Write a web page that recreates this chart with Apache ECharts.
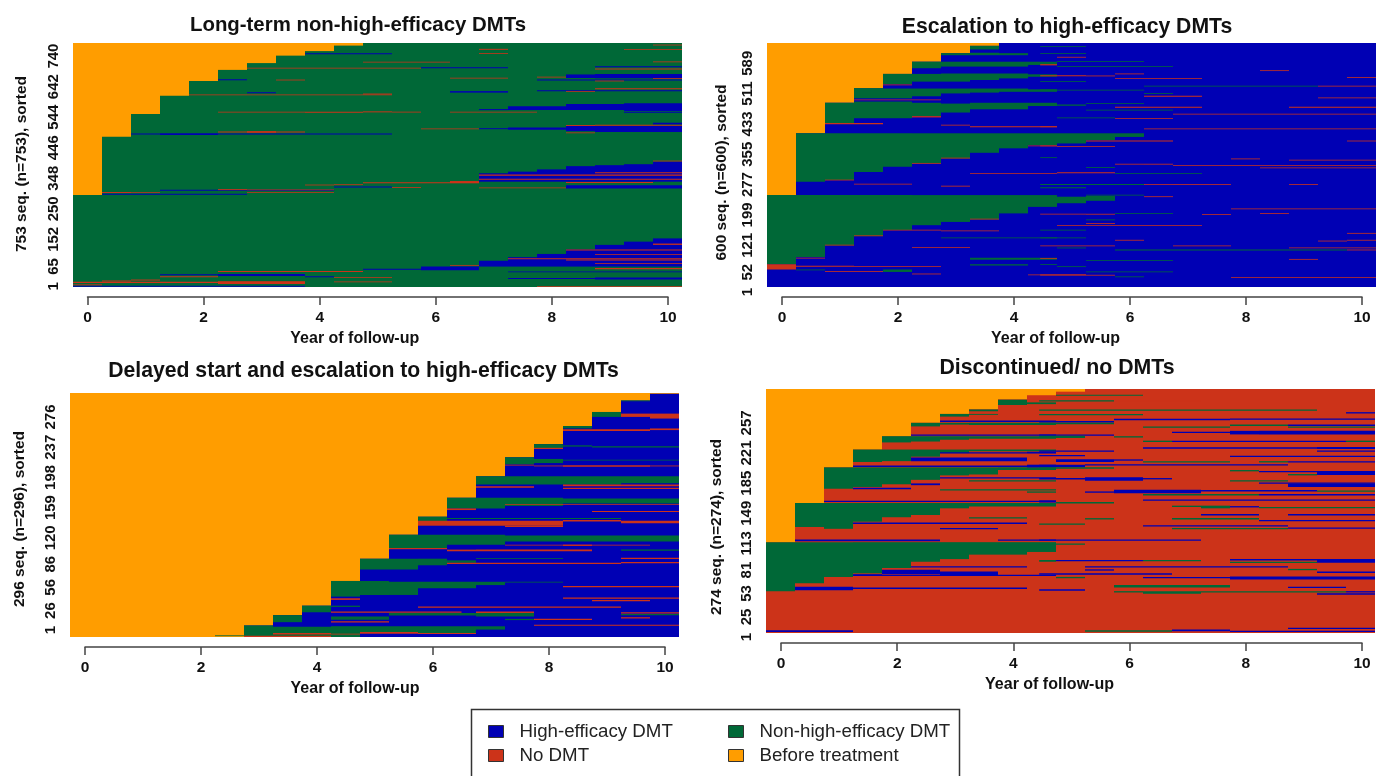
<!DOCTYPE html>
<html>
<head>
<meta charset="utf-8">
<style>html,body{margin:0;padding:0;background:#fff}#chart{width:1387px;height:776px;filter:blur(0.5px)}</style>
<script src="https://cdn.jsdelivr.net/npm/echarts@6/dist/echarts.min.js"></script>
</head>
<body>
<div id="chart"></div>
<script>
// States
const H = 0, N = 1, X = 2, B = 3;
const stateNames = ['High-efficacy DMT', 'Non-high-efficacy DMT', 'No DMT', 'Before treatment'];
const stateColors = ['#0000b4', '#006837', '#cc3319', '#ff9d00'];
const panelTitles = ['Long-term non-high-efficacy DMTs', 'Escalation to high-efficacy DMTs',
  'Delayed start and escalation to high-efficacy DMTs', 'Discontinued/ no DMTs'];
const yNames = ['753 seq. (n=753), sorted', '600 seq. (n=600), sorted', '296 seq. (n=296), sorted', '274 seq. (n=274), sorted'];
const seqCounts = [753, 600, 296, 274];
const yTicks1 = [1, 65, 152, 250, 348, 446, 544, 642, 740];
const yTicks2 = [1, 52, 121, 199, 277, 355, 433, 511, 589];
const yTicks3 = [1, 26, 56, 86, 120, 159, 198, 237, 276];
const yTicks4 = [1, 25, 53, 81, 113, 149, 185, 221, 257];
const xAxisName = 'Year of follow-up';

// Each segment: [first row, last row, start year, end year, state]; painted in order
const panel1Segments = [
  [0,753,-.25,10.25,N],
  [284,753,-.25,.25,B],[464,753,.25,.75,B],[534,753,.75,1.25,B],[590,753,1.25,1.75,B],[636,753,1.75,2.25,B],
  [670,753,2.25,2.75,B],[691,753,2.75,3.25,B],[714,753,3.25,3.75,B],[728,753,3.75,4.25,B],[745,753,4.25,4.75,B],
  [718,721,3.75,5.25,H],[675,677,2.75,5.75,X],[675,678,5.75,7.25,H],[693,695,4.75,6.25,X],[644,646,6.25,7.25,X],
  [638,641,2.25,2.75,H],[638,640,3.25,3.75,X],[601,604,6.25,7.25,H],[598,601,2.75,3.25,H],[592,594,1.75,5.25,X],[594,597,4.75,5.25,X],
  [539,541,2.25,3.75,X],[538,541,3.75,4.75,X],[539,542,4.75,5.25,X],[540,541,5.25,5.75,X],[539,541,6.25,7.75,X],
  [477,480,2.25,3.75,X],[476,481,2.75,3.25,X],[471,474,.75,5.25,H],[469,474,1.25,2.25,H],[487,489,5.75,6.75,X],
  [487,490,6.75,7.25,H],[485,492,7.25,8.25,H],[481,497,8.25,8.75,H],[478,497,8.75,10.25,H],[498,501,8.75,10.25,X],[502,507,9.75,10.25,H],
  [497,500,8.25,8.75,X],[475,477,8.25,8.75,X],
  [546,549,6.75,7.25,H],[546,558,7.25,8.25,H],[546,565,8.25,9.25,H],[543,567,9.25,10.25,H],[538,541,9.25,10.25,H],
  [732,735,6.75,7.25,X],[720,722,6.75,7.25,X],[732,734,9.25,10.25,X],[746,748,9.75,10.25,X],[678,681,8.75,10.25,H],[672,674,8.75,10.25,X],[694,696,9.75,10.25,X],
  [645,656,8.25,8.75,H],[644,657,8.75,10.25,H],[637,640,7.75,10.25,H],[647,649,7.75,8.25,X],[635,637,8.75,9.25,X],[643,645,9.75,10.25,X],
  [604,607,7.75,10.25,H],[610,613,8.75,10.25,X],[603,605,8.25,8.75,X],[600,603,6.25,7.25,H],
  [325,351,6.75,7.25,H],[325,356,7.25,7.75,H],[325,363,7.75,8.25,H],[325,373,8.25,8.75,H],[325,376,8.75,9.25,H],[325,379,9.25,9.75,H],[325,387,9.75,10.25,H],
  [343,347,6.75,10.25,X],[331,334,6.75,10.25,X],[351,354,8.75,10.25,X],[388,390,9.75,10.25,X],
  [321,324,8.25,9.75,X],[321,323,4.75,6.25,X],[320,327,6.25,6.75,X],[315,317,4.25,4.75,X],
  [307,310,4.25,5.25,H],[306,308,5.25,5.75,X],[305,307,6.75,8.25,X],[304,314,8.25,10.25,H],
  [314,316,3.75,4.25,X],[297,300,1.25,4.25,H],[299,302,2.25,2.75,X],[299,301,2.75,4.25,X],[291,293,.25,1.25,X],[290,293,.25,.75,X],
  [291,293,2.75,4.25,X],[285,288,.25,2.75,H],
  [47,49,2.25,4.75,X],[36,39,1.25,2.25,H],[34,40,2.25,3.75,H],[30,33,1.25,2.25,X],[30,33,3.75,4.25,H],
  [20,23,.75,1.25,X],[17,20,.25,.75,X],[12,16,-.25,3.75,X],[9,18,2.25,3.75,X],[5,8,-.25,.25,X],[1,4,-.25,3.75,H],
  [53,56,4.75,5.75,H],[52,63,5.75,6.75,H],[66,68,6.25,6.75,X],
  [63,81,6.75,7.25,H],[63,92,7.25,7.75,H],[63,102,7.75,8.25,H],[63,116,8.25,8.75,H],[63,130,8.75,9.25,H],[63,140,9.25,9.75,H],[63,150,9.75,10.25,H],
  [55,59,8.75,10.25,X],[46,48,7.25,10.25,H],[25,28,7.25,8.75,H],[23,29,8.75,10.25,H],[1,3,7.75,10.25,X],[29,31,4.25,5.25,X],[15,17,4.25,5.25,X],
  [130,134,9.75,10.25,X],[113,116,8.25,10.25,X],[100,102,8.75,10.25,X],[86,89,7.25,10.25,X],[82,85,8.25,10.25,X],[72,74,8.75,10.25,X]
];

const panel2Segments = [
  [0,600,-.25,10.25,H],
  [226,600,-.25,.25,B],[378,600,.25,.75,B],[453,600,.75,1.25,B],[489,600,1.25,1.75,B],[524,600,1.75,2.25,B],[554,600,2.25,2.75,B],[575,600,2.75,3.25,B],[593,600,3.25,3.75,B],
  [56,226,-.25,.25,N],[74,226,.25,.75,N],[102,226,.75,1.25,N],[125,226,1.25,1.75,N],[140,226,1.75,2.25,N],[152,226,2.25,2.75,N],[160,226,2.75,3.25,N],[166,226,3.25,3.75,N],[181,226,3.75,4.25,N],[197,226,4.25,4.75,N],[206,222,4.75,5.25,N],[212,224,5.25,5.75,N],
  [43,56,-.25,.25,X],
  [259,378,.25,.75,N],[263,378,.75,1.25,N],[283,378,1.25,1.75,N],[296,378,1.75,2.25,N],[304,378,2.25,2.75,N],[316,378,2.75,3.25,N],[330,378,3.25,3.75,N],[341,378,3.75,4.25,N],[349,378,4.25,4.75,N],[353,378,4.75,5.25,N],[361,378,5.25,5.75,N],[369,378,5.75,6.25,N],
  [402,453,.75,1.25,N],[415,456,1.25,1.75,N],[464,489,1.25,1.75,N],
  [415,456,1.75,2.25,N],[464,488,1.75,2.25,N],[499,524,1.75,2.25,N],
  [420,453,2.25,2.75,N],[469,488,2.25,2.75,N],[505,524,2.25,2.75,N],[538,554,2.25,2.75,N],
  [429,451,2.75,3.25,N],[476,488,2.75,3.25,N],[505,525,2.75,3.25,N],[542,554,2.75,3.25,N],[570,575,2.75,3.25,N],
  [437,453,3.25,3.75,N],[478,488,3.25,3.75,N],[509,525,3.25,3.75,N],[542,554,3.25,3.75,N],[570,576,3.25,3.75,N],[584,593,3.25,3.75,N],
  [437,453,3.75,4.25,N],[480,488,3.75,4.25,N],[513,525,3.75,4.25,N],[542,554,3.75,4.25,N],[570,575,3.75,4.25,N],
  [445,453,4.25,4.75,N],[480,486,4.25,4.75,N],[517,523,4.25,4.75,N],[546,554,4.25,4.75,N],
  [459,461,1.25,2.75,X],[496,498,1.75,2.25,X],[400,402,.75,1.75,X],[417,419,2.25,2.75,X],
  [50,52,.25,1.25,X],[50,51,1.25,2.75,X],[41,43,.25,.75,N],[37,39,.75,1.25,X],[37,39,1.25,1.75,X],[37,43,1.75,2.25,N],[32,33,2.25,2.75,X],[29,31,4.25,5.25,X],
  [70,72,.25,.75,X],[102,104,.75,1.25,X],[125,127,1.25,1.75,X],[97,98,2.25,3.25,X],[138,139,2.75,3.75,X],[166,168,3.25,3.75,X],[140,141,1.75,2.75,X],[121,122,2.75,4.75,N],
  [67,72,3.25,4.75,N],[53,56,3.25,4.25,N],[279,280,3.25,4.75,X],[253,254,1.25,2.25,X],[247,249,2.75,3.25,X],[263,264,.75,1.25,X],[304,305,2.25,2.75,X],[316,318,2.75,3.25,X],[347,348,4.25,4.75,X],[394,395,3.25,4.75,X],[401,403,.75,1.75,X],[419,420,2.25,2.75,X],[398,399,2.75,3.25,X],
  [591,592,4.46,5.25,N],[574,575,4.46,5.25,N],[565,566,4.75,5.25,X],[554,555,4.75,6.25,N],[545,548,4.46,4.75,X],[542,543,4.75,6.75,N],[532,533,8.25,8.75,X],
  [518,521,4.46,5.25,X],[519,520,5.25,5.75,X],[524,525,5.75,6.25,X],[513,514,5.75,7.25,X],[515,516,9.75,10.25,X],[505,506,4.46,5.25,N],
  [494,495,6.25,9.25,N],[494,495,9.25,10.25,X],[483,486,4.46,4.75,N],[484,485,4.75,6.25,N],[476,477,6.25,6.75,N],[469,470,6.25,7.25,X],[465,466,9.25,10.25,X],
  [451,452,5.25,6.25,N],[446,449,4.46,5.25,N],[442,443,5.75,7.25,X],[442,443,8.75,10.25,X],[435,436,5.25,6.75,N],[425,426,6.75,10.25,X],[416,417,4.75,5.75,N],[414,415,5.75,6.75,X],
  [393,395,4.46,4.75,X],[389,390,6.25,10.25,X],[359,360,5.25,6.75,X],[359,360,9.75,10.25,X],[346,348,4.46,4.75,X],[345,346,4.75,5.75,X],
  [318,319,4.46,4.75,N],[315,316,7.75,8.25,X],[312,313,8.75,10.25,X],[302,303,5.75,6.25,X],[301,303,6.25,6.75,X],[299,300,6.75,10.25,X],[293,294,8.25,10.25,X],[294,295,5.25,5.75,N],
  [280,282,4.75,5.75,X],[279,280,5.75,7.25,N],[252,253,4.46,6.25,N],[252,253,6.25,6.75,X],[251,253,6.75,7.25,X],[252,253,7.25,7.75,X],[252,253,8.75,9.25,X],[244,245,4.46,5.25,N],
  [226,227,5.25,6.25,N],[222,223,6.25,6.75,X],[192,193,7.75,10.25,X],[178,180,4.46,5.25,X],[178,180,5.25,5.75,X],[181,182,5.75,6.75,N],[178,179,7.25,7.75,X],[181,182,8.25,8.75,X],
  [165,166,5.25,5.75,N],[156,157,5.25,5.75,X],[151,152,4.75,7.25,X],[140,141,4.46,5.25,N],[132,133,9.75,10.25,X],[120,122,4.46,5.25,N],[115,116,5.75,6.25,X],[113,114,9.25,9.75,X],[115,116,9.75,10.25,X],
  [101,102,4.46,5.75,X],[101,102,6.75,7.75,X],[96,97,4.75,5.25,N],[96,97,8.75,10.25,X],[91,92,5.75,9.75,N],[90,92,9.75,10.25,X],[70,71,4.46,4.75,X],[65,66,5.25,6.75,N],[68,69,8.75,9.25,X],
  [55,56,4.46,4.75,N],[50,51,4.75,5.25,N],[37,38,5.25,6.75,N],[28,31,4.46,5.25,X],[29,30,5.25,5.75,X],[25,26,5.75,6.25,N],[23,24,7.75,10.25,X]
];

const panel3Segments = [
  [0,296,-.25,10.25,B],
  [1,2,2.25,2.75,N],[0,14,2.75,3.25,H],[0,26.5,3.25,3.75,H],[0,38,3.75,4.25,H],[0,68,4.25,4.75,H],[0,95,4.75,5.25,H],[0,124,5.25,5.75,H],[0,146,5.75,6.25,H],
  [0,169,6.25,6.75,H],[0,195,6.75,7.25,H],[0,218,7.25,7.75,H],[0,234,7.75,8.25,H],[0,256,8.25,8.75,H],[0,273,8.75,9.25,H],[0,287,9.25,9.75,H],[0,295,9.75,10.25,H],
  [0,12.4,2.75,4.75,N],[6.3,14,2.75,3.25,N],[18,26.5,3.25,3.75,N],[30,38,3.75,4.25,N],[49,68,4.25,4.75,N],
  [37.5,45,4.25,4.75,H],[45,47,4.25,4.75,X],[14,16,3.25,4.75,H],[17,18,3.75,4.25,H],[3,5,3.25,4.75,X],[0,1.5,2.75,4.25,X],
  [286,287,9.25,9.75,N],[267,273,8.75,9.25,N],[267,271,9.25,9.75,X],[265,271,9.75,10.25,X],
  [253,256,8.25,8.75,N],[250,252,8.25,9.75,X],[251,253,9.75,10.25,X],
  [229,234,7.75,8.25,N],[231,232.5,8.25,8.75,N],[230,231.5,8.75,10.25,N],[228,229.5,7.75,8.25,X],
  [209.5,218,7.25,7.75,N],[211,216,7.75,8.25,N],[214,215,8.25,10.25,N],[207,208,7.75,8.25,X],[206.5,208.5,8.25,9.75,X],[207,208,9.75,10.25,X],[208,209,7.25,7.75,X],
  [185,195,6.75,9.25,N],[186.4,195,9.25,10.25,N],[181,183,6.75,7.75,X],[183,185,8.25,10.25,X],[179.5,181,8.25,10.25,X],
  [156,169,6.25,7.25,N],[159,169,7.25,8.25,N],[162,168,8.25,10.25,N],[154,156,6.25,6.75,X],[160,161,7.25,10.25,X],[151.5,153,8.75,10.25,X],
  [140,146,5.75,6.25,N],[143,144.5,6.25,9.25,N],[135,141,5.75,6.25,X],[135,141,6.25,8.25,X],[140,142,8.25,9.25,X],[138,141,9.25,10.25,X],[133.5,135,7.25,8.25,X],
  [108,124,5.25,6.25,N],[112,124,6.25,7.25,N],[116,123,7.25,10.25,N],[104,106,6.25,6.75,X],[104,106,6.75,8.75,X],[106.5,108,5.25,6.25,X],[110.5,112,8.25,8.75,X],[111,112,7.25,9.75,X],[104.5,106,9.25,10.25,N],
  [82,95,4.75,5.75,N],[87,95,5.75,6.25,N],[90,93,6.25,6.75,N],[94.5,95.5,6.75,8.25,N],[88.5,90,6.25,9.25,X],[94.5,96,9.25,10.25,X],[89.5,91,9.25,10.25,X],
  [51,68,4.25,5.25,N],[51,67,5.25,5.75,N],[59,67,5.75,6.75,N],[63,67,6.75,7.25,N],[66,67,7.25,8.25,N],[60.5,62,8.25,10.25,X],[46.5,48,8.25,10.25,X],[43.5,45,8.75,9.75,X],
  [36.5,38,4.25,4.75,N],[35.5,37,5.75,7.25,X],[35.5,37,7.25,9.25,X],[29.5,31,4.25,6.5,X],[26,29,5.25,7.75,N],[28,31,6.75,7.75,X],[25,29,6.75,7.75,N],
  [21,25,4.25,5.25,N],[17.5,19,4.25,5.25,X],[20.5,22,7.25,7.75,N],[20.5,22,7.75,8.75,X],[26.5,28,9.25,10.25,N],[28.5,30,9.25,10.25,X],[22.5,24,9.25,9.75,X],
  [5,13,4.25,6.75,N],[9,13,6.75,7.25,N],[4,6,4.75,5.75,X],[3.5,5,5.75,6.75,X],[13.5,15,7.75,10.25,X],[4,5.5,4.25,4.75,N]
];

const panel4Segments = [
  [0,274,-.25,10.25,X],
  [102,274,-.25,.25,B],[146,274,.25,.75,B],[186,274,.75,1.25,B],[206,274,1.25,1.75,B],[221,274,1.75,2.25,B],[236,274,2.25,2.75,B],[246,274,2.75,3.25,B],[251,274,3.25,3.75,B],[262.4,274,3.75,4.25,B],[267,274,4.25,4.75,B],[271,274,4.75,5.25,B],
  [47,102,-.25,.25,N],[56,102,.25,.75,N],[63,102,.75,1.25,N],[67,102,1.25,1.75,N],[73,102,1.75,2.25,N],[80,102,2.25,2.75,N],[83,102,2.75,3.25,N],[88,102,3.25,3.75,N],[88,102,3.75,4.25,N],[91,102,4.25,4.75,N],
  [48,52,.25,1.25,H],[49.5,51,1.25,4.25,H],[64,66,1.25,1.75,H],[66,71,1.75,2.75,H],[65,69,2.75,3.75,H],[64,65.5,1.25,4.75,H],[73.5,75,2.25,4.25,H],
  [119,146,.25,.75,N],[119.5,146,.75,1.25,N],[125,146,1.25,1.75,N],[130,146,1.75,2.25,N],[132.5,146,2.25,2.75,N],[140,146,2.75,3.25,N],[142,146,3.25,4.75,N],
  [117,121,.75,1.25,N],[117.5,120,1.25,3.25,X],[122.5,124,1.25,4.25,H],[116.5,118,2.75,3.75,H],[103,105,.25,2.75,H],[103.5,105,3.75,4.75,H],[128.5,130,3.25,4.25,N],
  [162,186,.75,1.25,N],[164,186,1.25,1.75,N],[167,186,1.75,2.25,N],[172,186,2.25,2.75,N],[177,186,2.75,3.25,N],[178,186,3.25,3.75,N],[183,186,3.75,4.75,N],
  [161.5,163,1.25,2.25,H],[166,168,2.25,2.75,H],[173.5,175,2.75,4.75,H],[147,148.5,.75,4.75,H],[170,171.5,3.25,4.75,N],[160,161.5,2.75,4.75,N],[157.5,159,4.25,4.75,N],
  [192,206,1.25,1.75,N],[193,206,1.75,2.25,N],[198,206,2.25,2.75,N],[202,206,2.75,3.25,N],[204,206,3.25,4.75,N],
  [193,197,2.25,4.25,H],[186.5,188,1.25,4.25,H],[186,189,4.25,4.75,H],[201.5,203,2.75,4.25,H],[201.5,203.5,4.25,4.75,H],
  [214,221,1.75,2.25,N],[215,221,2.25,2.75,N],[217,221,2.75,3.25,N],[218,221,3.25,4.75,N],[221.5,223,2.25,4.75,H],
  [232,236,2.25,2.75,N],[234,236,2.75,3.25,N],[233.5,236,3.25,4.75,N],[237,238.5,2.75,4.75,H],
  [243,246,2.75,3.25,N],[245,251,3.25,3.75,X],[245,251,3.25,3.75,N],[246,249,3.25,3.75,X],[256,262,3.75,4.25,N],
  [257,259,4.25,4.75,N],[260,262,4.25,4.75,X],
  [1,3,-.25,1.25,H],
  [260,261.5,4.46,5.75,N],[260,261,5.75,7.25,X],[266.5,267.5,4.75,6.25,N],[249.5,251,4.46,9.25,N],[244.5,246,4.46,6.25,N],[246.5,248,9.75,10.25,H],
  [239,240.5,5.75,7.75,H],[239.5,241,7.75,10.25,H],[236.5,238,4.46,5.75,H],[234.5,236,4.46,5.75,N],[230.5,232,6.25,7.75,N],[232.5,234,7.75,8.75,N],[232.5,234,8.75,10.25,H],[230.5,232,8.75,10.25,N],
  [224.5,226,6.75,7.75,H],[223,227,7.75,8.25,H],[223,227,8.25,10.25,H],[221.5,223,4.46,5.75,H],[219,221.5,4.46,5.25,N],[219.5,221,5.75,6.25,N],
  [214.5,216,6.75,9.75,H],[214.5,216,6.25,6.75,N],[214.5,216,9.75,10.25,N],[207,208.5,6.25,9.25,H],[206.5,209,9.25,10.25,H],[203.5,205,4.46,5.75,H],[203.5,205,9.25,10.25,H],
  [198.5,200,4.46,5.25,H],[197.5,199,7.75,10.25,H],[192,195,4.75,5.75,H],[193.5,195,5.75,6.25,H],[191.5,193,6.25,7.75,N],[191.5,193,8.25,8.75,N],[191.5,193,8.75,10.25,H],
  [186,189,4.46,5.25,H],[188,189.5,5.25,8.75,H],[184.5,186,4.46,5.75,N],[181.5,183,7.75,8.25,N],[180.5,182,8.25,10.25,H],[177.5,181,9.25,10.25,H],[177,178.5,8.75,9.25,N],
  [171,175,5.25,6.25,H],[172.5,174,4.46,5.25,H],[172.5,174,6.25,6.75,H],[170,171.5,7.75,8.75,N],[167.5,169,8.25,10.25,H],[164,168,8.75,10.25,H],
  [157,161,5.75,7.25,H],[159,160.5,7.25,9.25,H],[157.5,159,5.25,5.75,H],[158.5,160,9.25,10.25,N],[154.5,156,6.25,7.25,N],[154.5,156,7.25,8.25,N],[154.5,156,8.25,10.25,H],
  [148.5,150,6.25,10.25,H],[146.5,149,4.46,4.75,H],[145.5,147,4.75,5.75,N],
  [141.5,143,6.75,7.25,N],[140,143,7.25,7.75,N],[141,142.5,7.75,8.25,H],[140,141.5,8.25,10.25,N],
  [132,133.5,7.25,8.25,H],[132,133.5,8.75,10.25,H],[127.5,129,6.75,8.25,N],[127.5,129,5.25,5.75,N],[125.5,127,8.25,10.25,H],[121.5,123,4.46,5.25,N],
  [119.5,121,6.25,8.75,H],[117,118.5,8.75,10.25,H],[116.5,118,6.75,8.75,N],
  [103.5,105,4.46,7.25,H],[99,100.5,4.46,5.25,N],[92.5,99,4.46,4.75,N],
  [80,82,4.46,4.75,N],[80.5,82,4.75,6.25,H],[80.5,82,6.25,7.25,N],[81.5,83,7.75,9.25,H],[78.5,80,7.75,9.25,N],[79,83,9.25,10.25,H],
  [73.5,75,5.25,8.75,H],[70,71.5,5.25,5.75,H],[70.5,72,8.75,9.25,N],[67.5,69,9.25,10.25,H],[65.5,67,4.46,6.75,H],
  [61.5,63,6.25,7.75,H],[60,63.5,7.75,10.25,H],[61.5,63,4.75,5.25,N],[51,54,5.75,7.75,N],[50.5,52,8.75,9.75,H],[47.5,49,4.46,5.25,H],
  [45.5,47,5.75,6.25,N],[44,47,6.25,7.25,N],[45.5,47,7.25,9.75,N],[45.5,47,9.75,10.25,H],[43,44.5,9.25,10.25,H],
  [1.5,3,5.25,6.75,N],[2,4,6.75,7.75,H],[1,2.5,7.75,10.25,H],[4.5,6,8.75,10.25,H]
];

// Where each panel's rows, tick labels and axis sit on the page
const panelBoxes = [
  {left:73,  top:43,  width:609, height:244, labelHeight:254, axisLeft:87.5, axisWidth:580.5, axisTop:297, labelMin:-33,  labelMax:782,  namePad:-12, nameShift:46, nameGap:43, titleX:358,  titleY:15, titleSize:20.4},
  {left:767, top:43,  width:609, height:244, labelHeight:254, axisLeft:782,  axisWidth:580,   axisTop:297, labelMin:-11.9,labelMax:641,  namePad:5,   nameShift:33, nameGap:37, titleX:1067, titleY:17, titleSize:21.2},
  {left:70,  top:393, width:609, height:244, labelHeight:254, axisLeft:85,   axisWidth:580,   axisTop:647, labelMin:-21,  labelMax:307,  namePad:-2,  nameShift:40, nameGap:42, titleX:363.5,titleY:361, titleSize:21.2},
  {left:766, top:389, width:609, height:244, labelHeight:254, axisLeft:781,  axisWidth:581,   axisTop:643, labelMin:-6.2, labelMax:297.6,namePad:22,  nameShift:44, nameGap:41, titleX:1057, titleY:358, titleSize:21.3}
];
const allSegments = [panel1Segments, panel2Segments, panel3Segments, panel4Segments];
const allTicks = [yTicks1, yTicks2, yTicks3, yTicks4];

const boldFont = '"Liberation Sans",Arial,sans-serif';
const grids = [], xAxes = [], yAxes = [], series = [], titles = [];

panelBoxes.forEach(function (p, i) {
  titles.push({text: panelTitles[i], left: p.titleX, top: p.titleY, textAlign: 'center', padding: 0,
    textStyle: {fontFamily: boldFont, fontWeight: 'bold', fontSize: p.titleSize, color: '#111'}});
  const plotGrid = grids.length;
  grids.push({left: p.left, top: p.top, width: p.width, height: p.height});
  const axisGrid = grids.length;
  grids.push({left: p.axisLeft, top: p.axisTop - 1, width: p.axisWidth, height: 1});
  const labelGrid = grids.length;
  grids.push({left: p.left, top: p.top, width: p.width, height: p.labelHeight});

  const plotX = xAxes.length;
  xAxes.push({gridIndex: plotGrid, type: 'value', min: -0.25, max: 10.25, show: false});
  xAxes.push({gridIndex: axisGrid, type: 'value', min: 0, max: 10, interval: 2, position: 'bottom',
    splitLine: {show: false},
    axisLine: {show: true, lineStyle: {color: '#444', width: 1.5}},
    axisTick: {show: true, length: 8, lineStyle: {color: '#444', width: 1.5}},
    axisLabel: {margin: 13, fontFamily: boldFont, fontWeight: 'bold', fontSize: 15.5, color: '#111'},
    name: xAxisName, nameLocation: 'middle', nameGap: 34,
    nameTextStyle: {fontFamily: boldFont, fontWeight: 'bold', fontSize: 16, color: '#111', padding: [0, p.nameShift, 0, 0]}
  });
  xAxes.push({gridIndex: labelGrid, type: 'value', min: 0, max: 1, show: false});

  const plotY = yAxes.length;
  yAxes.push({gridIndex: plotGrid, type: 'value', min: 0, max: seqCounts[i], show: false});
  yAxes.push({gridIndex: axisGrid, type: 'value', min: 0, max: 1, show: false});
  yAxes.push({gridIndex: labelGrid, type: 'value', min: p.labelMin, max: p.labelMax, position: 'left',
    splitLine: {show: false}, axisLine: {show: false}, axisTick: {show: false},
    axisLabel: {rotate: 90, margin: 12, customValues: allTicks[i], hideOverlap: false,
      fontFamily: boldFont, fontWeight: 'bold', fontSize: 15, color: '#111'},
    name: yNames[i], nameLocation: 'middle', nameRotate: 90, nameGap: p.nameGap,
    nameTextStyle: {fontFamily: boldFont, fontWeight: 'bold', fontSize: 15.5, color: '#111', padding: [0, p.namePad > 0 ? p.namePad : 0, 0, p.namePad < 0 ? -p.namePad : 0]}
  });

  series.push({
    type: 'custom', name: panelTitles[i], coordinateSystem: 'cartesian2d',
    xAxisIndex: plotX, yAxisIndex: plotY, silent: true, animation: false, progressive: 0,
    dimensions: ['rowFrom', 'rowTo', 'yearFrom', 'yearTo', 'state'],
    encode: {x: [2, 3], y: [0, 1]},
    data: allSegments[i],
    renderItem: function (params, api) {
      const a = api.coord([api.value(2), api.value(1)]);
      const b = api.coord([api.value(3), api.value(0)]);
      return {type: 'rect', shape: {x: a[0], y: a[1], width: b[0] - a[0], height: Math.max(b[1] - a[1], 0.8)},
        style: {fill: stateColors[api.value(4)]}};
    }
  });
});

// Legend keys: the four states
stateNames.forEach(function (name, k) {
  series.push({type: 'custom', name: name, coordinateSystem: 'cartesian2d', xAxisIndex: 0, yAxisIndex: 0,
    data: [], itemStyle: {color: stateColors[k]}, renderItem: function () { return null; }});
});

const legendBase = {orient: 'vertical', icon: 'rect', itemWidth: 15, itemHeight: 12, itemGap: 5, selectedMode: false,
  padding: 0, itemStyle: {borderColor: '#333', borderWidth: 1},
  textStyle: {fontFamily: '"Liberation Sans",Arial,sans-serif', fontSize: 18.7, color: '#222', padding: [0, 0, 0, 11]}};

const chart = echarts.init(document.getElementById('chart'), null, {renderer: 'canvas'});
chart.setOption({
  animation: false,
  backgroundColor: '#fff',
  title: titles,
  grid: grids,
  xAxis: xAxes,
  yAxis: yAxes,
  series: series,
  legend: [
    Object.assign({}, legendBase, {left: 488, top: 722, data: [stateNames[0], stateNames[2]]}),
    Object.assign({}, legendBase, {left: 728, top: 722, data: [stateNames[1], stateNames[3]]})
  ],
  graphic: [{type: 'rect', z: -1, shape: {x: 471.5, y: 709.5, width: 488, height: 80},
    style: {fill: '#fff', stroke: '#333', lineWidth: 1.5}}]
});
</script>
</body>
</html>
